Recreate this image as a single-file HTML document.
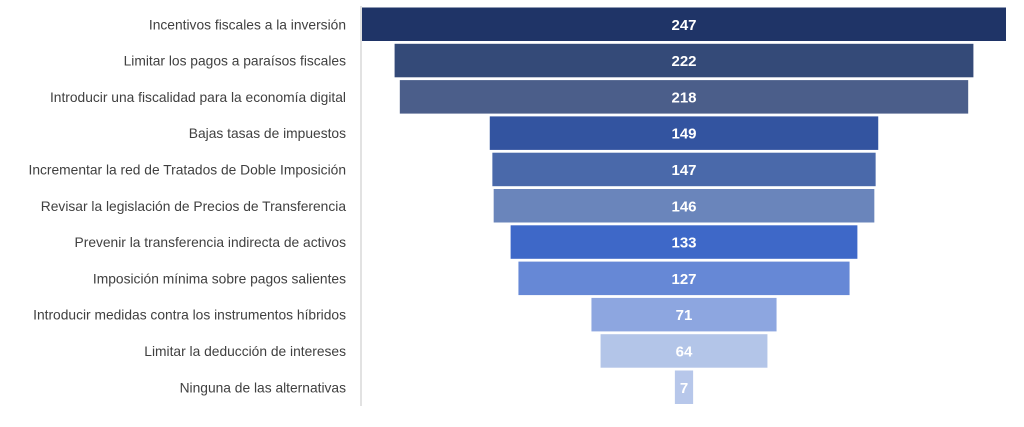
<!DOCTYPE html>
<html><head><meta charset="utf-8"><style>
body{margin:0;background:#fff;width:1024px;height:427px;overflow:hidden}
svg{display:block}
</style></head><body>
<svg id="chart" width="1024" height="427"></svg>
<script>
const categories=["Incentivos fiscales a la inversión","Limitar los pagos a paraísos fiscales","Introducir una fiscalidad para la economía digital","Bajas tasas de impuestos","Incrementar la red de Tratados de Doble Imposición","Revisar la legislación de Precios de Transferencia","Prevenir la transferencia indirecta de activos","Imposición mínima sobre pagos salientes","Introducir medidas contra los instrumentos híbridos","Limitar la deducción de intereses","Ninguna de las alternativas"];
const values=[247,222,218,149,147,146,133,127,71,64,7];
const colors=["#1f3467","#344a78","#4b5e8a","#3354a0","#4a69aa","#6a85bb","#3e68c8","#6688d6","#8da6e0","#b3c5e8","#b7c7ea"];
const NS="http://www.w3.org/2000/svg";
const svg=document.getElementById("chart");
const cx=684, maxW=644, maxV=Math.max(...values);
const w=v=>v/maxV*maxW;
const top0=7.5, pitch=36.3, bh=33.5;
const y=i=>top0+i*pitch;
const ax=document.createElementNS(NS,"line");


ax.setAttribute("x1",361);ax.setAttribute("x2",361);ax.setAttribute("y1",6);ax.setAttribute("y2",406);
ax.setAttribute("stroke","#d9d9d9");ax.setAttribute("stroke-width","1.5");
svg.appendChild(ax);
values.forEach((v,i)=>{
 const r=document.createElementNS(NS,"rect");
 
 
 r.setAttribute("x",cx-w(v)/2);r.setAttribute("y",y(i));
 r.setAttribute("width",w(v));r.setAttribute("height",bh);
 r.setAttribute("fill",colors[i]);
 svg.appendChild(r);
 const t=document.createElementNS(NS,"text");
 
 
 t.setAttribute("x",cx);t.setAttribute("y",y(i)+bh/2+5.5);
 t.setAttribute("text-anchor","middle");t.setAttribute("fill","#fff");
 t.setAttribute("font-family","Liberation Sans, sans-serif");t.setAttribute("font-size","15");t.setAttribute("font-weight","bold");
 t.textContent=v;svg.appendChild(t);
 const c=document.createElementNS(NS,"text");
 
 
 c.setAttribute("x",346);c.setAttribute("y",y(i)+bh/2+5);
 c.setAttribute("text-anchor","end");c.setAttribute("fill","#404040");
 c.setAttribute("font-family","Liberation Sans, sans-serif");c.setAttribute("font-size","13.8");
 c.textContent=categories[i];svg.appendChild(c);
});
</script>
</body></html>
